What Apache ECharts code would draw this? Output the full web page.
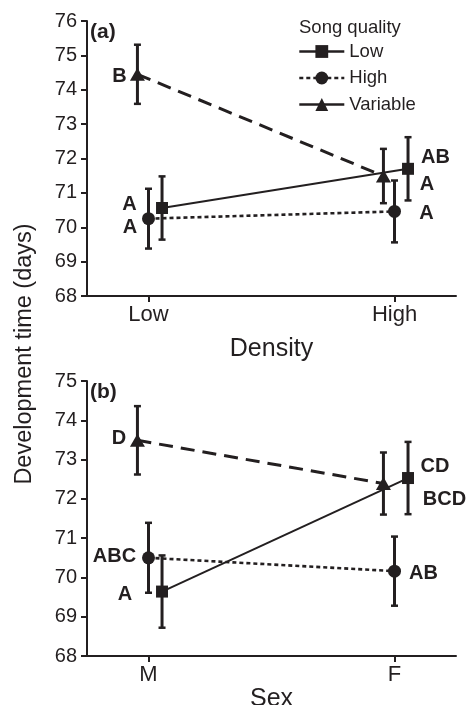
<!DOCTYPE html>
<html>
<head>
<meta charset="utf-8">
<script src="https://cdn.jsdelivr.net/npm/echarts@6/dist/echarts.min.js"></script>
<style>
html,body{margin:0;padding:0;background:#fff;}
#chart{width:472px;height:705px;}
</style>
</head>
<body>
<div id="chart"></div>
<script>
// ---- data ----
const densityCats = ['Low', 'High'];
const sexCats = ['M', 'F'];
const qualities = ['Low', 'High', 'Variable'];
const yTicksA = [68, 69, 70, 71, 72, 73, 74, 75, 76];
const yTicksB = [68, 69, 70, 71, 72, 73, 74, 75];

// Panel (a): by density
const aLowMean = [70.56, 71.70];
const aLowErr = [0.92, 0.92];
const aLowLetters = ['A', 'A'];
const aHighMean = [70.25, 70.46];
const aHighErr = [0.87, 0.90];
const aHighLetters = ['A', 'A'];
const aVarMean = [74.45, 71.49];
const aVarErr = [0.86, 0.79];
const aVarLetters = ['B', 'AB'];

// Panel (b): by sex
const bLowMean = [69.64, 72.53];
const bLowErr = [0.92, 0.92];
const bLowLetters = ['A', 'BCD'];
const bHighMean = [70.50, 70.16];
const bHighErr = [0.89, 0.88];
const bHighLetters = ['ABC', 'AB'];
const bVarMean = [73.49, 72.39];
const bVarErr = [0.87, 0.79];
const bVarLetters = ['D', 'CD'];

// ---- styling ----
const INK = '#231f20';
const FONT = '"Liberation Sans", Arial, Helvetica, sans-serif';
const xShift = { 'Low': 0.055, 'High': 0, 'Variable': -0.045 };
const symbols = { 'Low': 'rect', 'High': 'circle', 'Variable': 'triangle' };
const symbolSizes = { 'Low': 12, 'High': 13, 'Variable': [15, 13] };
const lineStyles = {
  'Low': { width: 2, type: 'solid' },
  'High': { width: 2.6, type: [4, 3] },
  'Variable': { width: 3, type: [14, 8] }
};
// label offsets (px) per panel / quality / category index
const labelOffsets = {
  a: { 'Low': [[-32.5, -4], [19, 16]], 'High': [[-18.5, 9], [32, 2.5]], 'Variable': [[-18, 2], [52, -19]] },
  b: { 'Low': [[-37, 3], [36.5, 21]], 'High': [[-34, -1], [29, 2.5]], 'Variable': [[-18.5, -2], [51.5, -16.6]] }
};

const panels = {
  a: { Low: [aLowMean, aLowErr, aLowLetters], High: [aHighMean, aHighErr, aHighLetters], Variable: [aVarMean, aVarErr, aVarLetters] },
  b: { Low: [bLowMean, bLowErr, bLowLetters], High: [bHighMean, bHighErr, bHighLetters], Variable: [bVarMean, bVarErr, bVarLetters] }
};

function errRender(params, api) {
  const x = api.value(0), lo = api.value(1), hi = api.value(2);
  const pLo = api.coord([x, lo]);
  const pHi = api.coord([x, hi]);
  const cap = 3.5;
  return {
    type: 'group',
    children: [
      { type: 'line', shape: { x1: pLo[0], y1: pLo[1], x2: pHi[0], y2: pHi[1] }, style: { stroke: INK, lineWidth: 3 } },
      { type: 'line', shape: { x1: pLo[0] - cap, y1: pLo[1], x2: pLo[0] + cap, y2: pLo[1] }, style: { stroke: INK, lineWidth: 2.5 } },
      { type: 'line', shape: { x1: pHi[0] - cap, y1: pHi[1], x2: pHi[0] + cap, y2: pHi[1] }, style: { stroke: INK, lineWidth: 2.5 } }
    ]
  };
}

const series = [];
['a', 'b'].forEach((p, gi) => {
  qualities.forEach(q => {
    const [means, errs, letters] = panels[p][q];
    const errData = means.map((m, i) => [i + 1 + xShift[q], m - errs[i], m + errs[i]]);
    series.push({
      type: 'custom', name: 'err-' + p + '-' + q,
      xAxisIndex: gi, yAxisIndex: gi, z: 1,
      renderItem: errRender, encode: { x: 0, y: [1, 2] },
      data: errData, silent: true
    });
  });
  qualities.forEach(q => {
    const [means, errs, letters] = panels[p][q];
    series.push({
      type: 'line', name: q,
      xAxisIndex: gi, yAxisIndex: gi, z: 3,
      symbol: symbols[q], symbolSize: symbolSizes[q],
      lineStyle: { color: INK, width: lineStyles[q].width, type: lineStyles[q].type },
      itemStyle: { color: INK },
      animation: false,
      data: means.map((m, i) => ({
        value: [i + 1 + xShift[q], m],
        label: {
          show: true, position: 'inside',
          offset: labelOffsets[p][q][i],
          formatter: letters[i],
          color: INK, fontWeight: 'bold', fontSize: 20, fontFamily: FONT,
          align: 'center', verticalAlign: 'middle'
        }
      }))
    });
  });
});

function xAxisFor(cats, name, gap, gi) {
  return {
    type: 'value', gridIndex: gi, min: 0.75, max: 2.25,
    name: name, nameLocation: 'middle', nameGap: gap,
    nameTextStyle: { fontSize: 25, color: INK, fontFamily: FONT },
    axisLine: { lineStyle: { color: INK, width: 2 } },
    axisTick: { customValues: [1, 2], length: 6, lineStyle: { color: INK, width: 2 } },
    axisLabel: { customValues: [1, 2], formatter: v => cats[Math.round(v) - 1], fontSize: 22, color: INK, fontFamily: FONT, margin: 8 },
    splitLine: { show: false }
  };
}
function yAxisFor(ticks, gi) {
  return {
    type: 'value', gridIndex: gi, min: ticks[0], max: ticks[ticks.length - 1], interval: 1,
    axisLine: { show: true, lineStyle: { color: INK, width: 2 } },
    axisTick: { show: true, length: 6, lineStyle: { color: INK, width: 2 } },
    axisLabel: { fontSize: 20, color: INK, fontFamily: FONT, margin: 10 },
    splitLine: { show: false }
  };
}

const chart = echarts.init(document.getElementById('chart'), null, { renderer: 'canvas' });
chart.setOption({
  backgroundColor: '#fff',
  animation: false,
  textStyle: { fontFamily: FONT, color: INK },
  title: { text: 'Song quality', left: 299, top: 18, padding: 0, textStyle: { fontSize: 18.5, fontWeight: 'normal', color: INK, fontFamily: FONT } },
  legend: {
    data: [
      { name: 'Low', lineStyle: { type: 'solid', width: 2.5 } },
      { name: 'High', lineStyle: { type: [4, 3], width: 2.6 } },
      { name: 'Variable', lineStyle: { type: 'solid', width: 2.5 } }
    ],
    orient: 'vertical', left: 298, top: 42, padding: 0,
    itemWidth: 45, itemHeight: 16, itemGap: 7.5,
    textStyle: { fontSize: 18.5, color: INK, fontFamily: FONT },
    selectedMode: false
  },
  grid: [
    { left: 87, top: 21, width: 369, height: 275, outerBoundsMode: 'none', containLabel: false },
    { left: 87, top: 381, width: 369, height: 275, outerBoundsMode: 'none', containLabel: false }
  ],
  xAxis: [xAxisFor(densityCats, 'Density', 41, 0), xAxisFor(sexCats, 'Sex', 30, 1)],
  yAxis: [yAxisFor(yTicksA, 0), yAxisFor(yTicksB, 1)],
  graphic: [
    { type: 'text', x: 25, y: 354, rotation: Math.PI / 2, style: { text: 'Development time (days)', fontSize: 23.5, fontFamily: FONT, fill: INK, align: 'center', verticalAlign: 'middle' } },
    { type: 'text', left: 90, top: 22, style: { text: '(a)', fontSize: 21, fontWeight: 'bold', fontFamily: FONT, fill: INK } },
    { type: 'text', left: 90, top: 382, style: { text: '(b)', fontSize: 21, fontWeight: 'bold', fontFamily: FONT, fill: INK } }
  ],
  series: series
});
</script>
</body>
</html>
